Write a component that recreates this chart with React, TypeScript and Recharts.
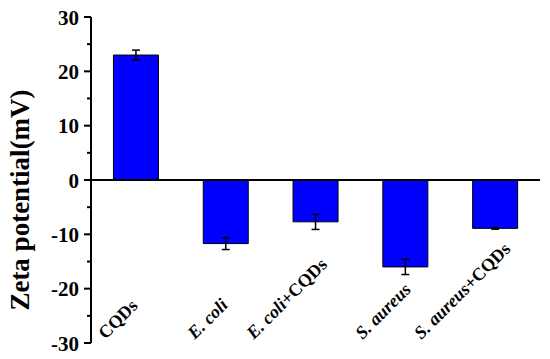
import React from "react";
import { BarChart, Bar, XAxis, YAxis, ReferenceLine, ErrorBar } from "recharts";

const samples = ["CQDs", "E. coli", "E. coli+CQDs", "S. aureus", "S. aureus+CQDs"];
const zeta = [23.0, -11.7, -7.7, -16.0, -8.9];
const zetaErr = [0.9, 1.1, 1.4, 1.4, 0.15];
const yTicks = [-30, -25, -20, -15, -10, -5, 0, 5, 10, 15, 20, 25, 30];

const data = samples.map((name, i) => ({ name, zeta: zeta[i], err: zetaErr[i] }));

const FONT = "'Liberation Serif', 'Times New Roman', serif";
const X_FONT_SIZE = 18;

// rough Times bold glyph widths (em), used to place the rotated labels
const charW: Record<string, number> = {
  C: 0.722, Q: 0.778, D: 0.722, E: 0.667, S: 0.556,
  a: 0.5, c: 0.444, e: 0.444, i: 0.278, l: 0.278, o: 0.5, r: 0.389, s: 0.389, u: 0.556,
  ".": 0.25, " ": 0.25, "+": 0.57,
};
const textWidth = (t: string) => t.split("").reduce((s, ch) => s + (charW[ch] ?? 0.5), 0) * X_FONT_SIZE;

// species name in italics, "+CQDs" upright
function splitLabel(name: string) {
  const [head, tail] = name.split("+");
  return { head, tail: tail ? "+" + tail : "", italic: head !== "CQDs" };
}

function renderXTick(props: any) {
  const x = Number(props.x);
  const y = Number(props.y);
  const { head, tail, italic } = splitLabel(String(props.payload.value));
  const w = textWidth(head + tail);
  const sx = x - 5 - 0.54 * w;
  const sy = y - 3;
  return (
    <g transform={`translate(${sx},${sy}) rotate(-45)`}>
      <text x={0} y={0} fontFamily={FONT} fontWeight="bold" fontSize={X_FONT_SIZE} fill="#000">
        <tspan fontStyle={italic ? "italic" : "normal"}>{head}</tspan>
        {tail && <tspan fontStyle="normal">{tail}</tspan>}
      </text>
    </g>
  );
}

function renderYTick(props: any) {
  const x = Number(props.x);
  const y = Number(props.y);
  const v = props.payload.value;
  const major = v % 10 === 0;
  const ax = x + 12;
  return (
    <g>
      <line x1={ax} x2={ax - (major ? 7 : 4)} y1={y} y2={y} stroke="#000" strokeWidth={2} />
      {major && (
        <text x={x} y={y} dy="0.36em" textAnchor="end" fontFamily={FONT} fontWeight="bold" fontSize={21} fill="#000">
          {v}
        </text>
      )}
    </g>
  );
}

function YLabel() {
  return (
    <text
      x={29}
      y={200}
      transform="rotate(-90 29 200)"
      textAnchor="middle"
      fontFamily={FONT}
      fontWeight="bold"
      fontSize={27}
      fill="#000"
    >
      Zeta potential(mV)
    </text>
  );
}

export default function App() {
  return (
    <div style={{ position: "absolute", left: 0, top: 0, width: 550, height: 359, background: "#fff" }}>
      <BarChart
        width={550}
        height={359}
        data={data}
        margin={{ top: 17, right: 10, bottom: 15, left: 0 }}
        barCategoryGap="25%"
      >
        <XAxis
          dataKey="name"
          height={1}
          axisLine={false}
          tickLine={false}
          tickSize={0}
          tickMargin={0}
          interval={0}
          tick={renderXTick}
        />
        <YAxis
          width={91}
          domain={[-30, 30]}
          ticks={yTicks}
          interval={0}
          allowDataOverflow
          axisLine={{ stroke: "#000", strokeWidth: 2 }}
          tickLine={false}
          tickSize={7}
          tickMargin={5}
          tick={renderYTick}
          label={<YLabel />}
        />
        <Bar dataKey="zeta" fill="#0000ff" stroke="#000" strokeWidth={1} isAnimationActive={false}>
          <ErrorBar dataKey="err" width={4} stroke="#000" strokeWidth={1.5} direction="y" />
        </Bar>
        <ReferenceLine y={0} stroke="#000" strokeWidth={2} />
      </BarChart>
    </div>
  );
}
